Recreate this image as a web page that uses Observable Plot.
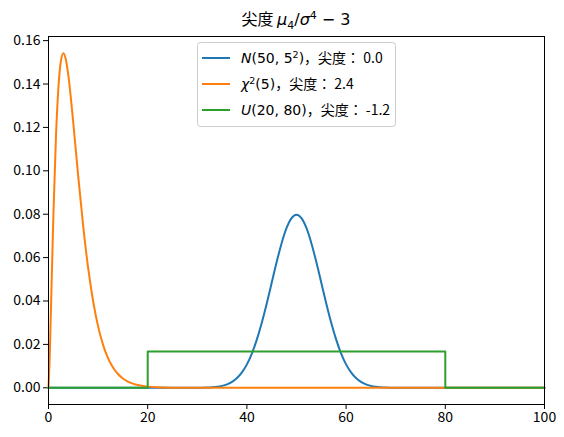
<!DOCTYPE html>
<html><head><meta charset="utf-8">
<script src="https://cdn.jsdelivr.net/npm/d3@7"></script>
<script src="https://cdn.jsdelivr.net/npm/@observablehq/plot@0.6"></script>
<style>body{margin:0;background:#fff}</style>
</head><body><div id="chart"></div>
<script>
// N(50, 5^2) density
const normalX = [0, 30, 32, 33, 34, 35, 36, 37, 38, 39, 40, 41, 42, 43, 44, 45, 46, 47, 48, 49, 50, 51, 52, 53, 54, 55, 56, 57, 58, 59, 60, 61, 62, 63, 64, 65, 66, 67, 68, 70, 100];
const normalY = [0, 0.00003, 0.00012, 0.00025, 0.00048, 0.00089, 0.00158, 0.00272, 0.00448, 0.00709, 0.0108, 0.01579, 0.02218, 0.02995, 0.03884, 0.04839, 0.05794, 0.06664, 0.07365, 0.07821, 0.07979, 0.07821, 0.07365, 0.06664, 0.05794, 0.04839, 0.03884, 0.02995, 0.02218, 0.01579, 0.0108, 0.00709, 0.00448, 0.00272, 0.00158, 0.00089, 0.00048, 0.00025, 0.00012, 0.00003, 0];
// chi^2(5) density
const chiX = [0, 0.25, 0.5, 1, 1.5, 2, 2.5, 3, 3.5, 4, 5, 6, 7, 8, 9, 10, 11, 12, 13, 14, 15, 16, 17, 18, 20, 22, 25, 30, 100];
const chiY = [0, 0.01467, 0.03662, 0.08066, 0.1154, 0.1384, 0.1506, 0.1542, 0.1513, 0.144, 0.122, 0.0973, 0.0744, 0.0551, 0.0399, 0.0283, 0.0198, 0.0137, 0.00937, 0.00635, 0.00427, 0.00286, 0.0019, 0.00125, 0.00054, 0.00023, 0.00006, 0, 0];
// U(20, 80) density
const unifX = [0, 20, 20, 80, 80, 100];
const unifY = [0, 0, 0.01667, 0.01667, 0, 0];
const yTicks = [0, 0.02, 0.04, 0.06, 0.08, 0.1, 0.12, 0.14, 0.16];
const xTicks = [0, 20, 40, 60, 80, 100];
const colors = ["#1f77b4", "#ff7f0e", "#2ca02c"];

const toRows = (xs, ys) => xs.map((x, i) => ({x, y: ys[i]}));
const FONT = "'Noto Sans CJK JP', 'DejaVu Sans', sans-serif";
const LW = 2;

const plot = Plot.plot({
  width: 564, height: 437,
  marginLeft: 48, marginRight: 20, marginTop: 36, marginBottom: 33,
  style: {fontFamily: FONT, fontSize: "14px", background: "#fff", color: "#000"},
  x: {domain: [0, 100], ticks: xTicks, tickSize: 5, tickPadding: 3, label: null},
  y: {domain: [-0.0077, 0.1619], ticks: yTicks, tickFormat: d3.format(".2f"), tickSize: 5, tickPadding: 3, label: null},
  marks: [
    Plot.line(toRows(normalX, normalY), {x: "x", y: "y", stroke: colors[0], strokeWidth: LW, curve: "monotone-x"}),
    Plot.line(toRows(chiX, chiY), {x: "x", y: "y", stroke: colors[1], strokeWidth: LW, curve: "monotone-x"}),
    Plot.line(toRows(unifX, unifY), {x: "x", y: "y", stroke: colors[2], strokeWidth: LW}),
    Plot.frame({stroke: "#000", strokeWidth: 1})
  ]
});
document.getElementById("chart").appendChild(plot);

const svg = d3.select(plot);
svg.selectAll("[aria-label='x-axis tick label'] text, [aria-label='y-axis tick label'] text").attr("fill", "#000");

// title
const t = svg.append("text").attr("x", 296).attr("y", 25).attr("text-anchor", "middle")
  .attr("font-size", 16).attr("fill", "#000").style("font-family", FONT);
t.append("tspan").text("尖度 ");
t.append("tspan").attr("font-style", "italic").style("font-family", "DejaVu Sans").text("μ");
t.append("tspan").attr("font-size", 11).attr("dy", 4).style("font-family", "DejaVu Sans").text("4");
t.append("tspan").attr("dy", -4).style("font-family", "DejaVu Sans").text("/");
t.append("tspan").attr("font-style", "italic").style("font-family", "DejaVu Sans").text("σ");
t.append("tspan").attr("font-size", 11).attr("dy", -6).style("font-family", "DejaVu Sans").text("4");
t.append("tspan").attr("dy", 6).style("font-family", "DejaVu Sans").text(" − 3");

// legend
const lg = svg.append("g").attr("text-anchor", "start");
lg.append("rect").attr("x", 197.5).attr("y", 42.5).attr("width", 198).attr("height", 84).attr("rx", 3)
  .attr("fill", "#fff").attr("fill-opacity", 0.8).attr("stroke", "#ccc");
const rows = [58, 84, 110];
rows.forEach((y, i) => lg.append("line").attr("x1", 202).attr("x2", 230).attr("y1", y).attr("y2", y)
  .attr("stroke", colors[i]).attr("stroke-width", LW));
function lt(y) {
  return lg.append("text").attr("x", 241).attr("y", y + 5).attr("text-anchor", "start")
    .attr("font-size", 14).attr("fill", "#000").style("font-family", FONT);
}
let a = lt(58);
a.append("tspan").attr("font-style", "italic").style("font-family", "DejaVu Sans").text("N");
a.append("tspan").style("font-family", "DejaVu Sans").text("(50, 5");
a.append("tspan").attr("font-size", 9.5).attr("dy", -5).style("font-family", "DejaVu Sans").text("2");
a.append("tspan").attr("dy", 5).style("font-family", "DejaVu Sans").text(")");
a.append("tspan").text("，尖度： 0.0");
let b = lt(84);
b.append("tspan").attr("font-style", "italic").style("font-family", "DejaVu Sans").text("χ");
b.append("tspan").attr("font-size", 9.5).attr("dy", -5).style("font-family", "DejaVu Sans").text("2");
b.append("tspan").attr("dy", 5).style("font-family", "DejaVu Sans").text("(5)");
b.append("tspan").text("，尖度： 2.4");
let c = lt(110);
c.append("tspan").attr("font-style", "italic").style("font-family", "DejaVu Sans").text("U");
c.append("tspan").style("font-family", "DejaVu Sans").text("(20, 80)");
c.append("tspan").text("，尖度： -1.2");
</script>
</body></html>
